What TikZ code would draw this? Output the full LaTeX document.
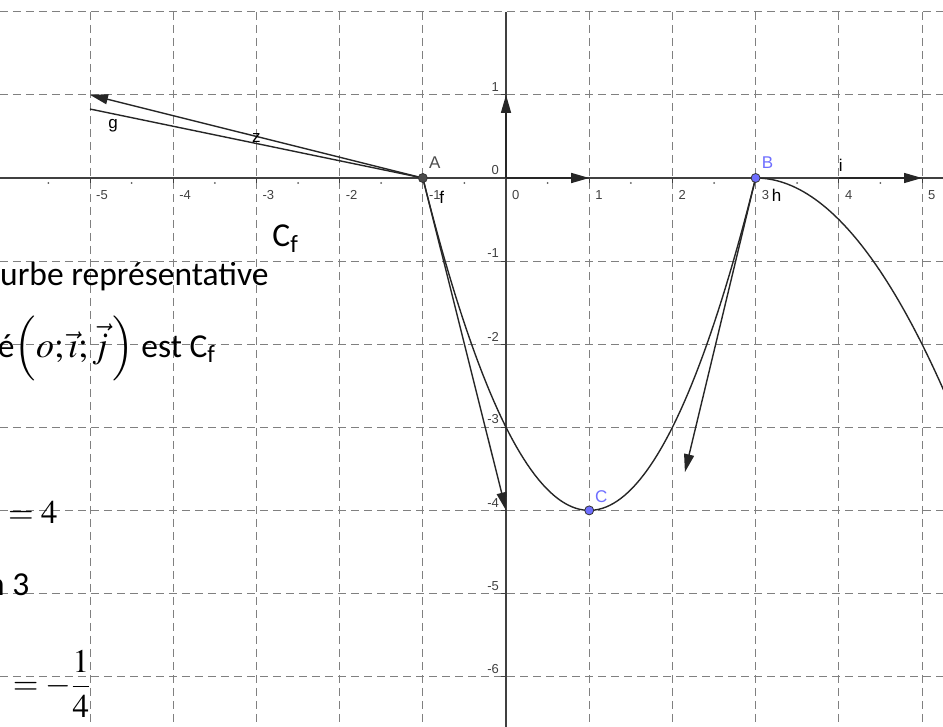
\documentclass[tikz,border=0pt]{standalone}
\usepackage{mathptmx}
\usepackage{fontspec}
\setmainfont{Carlito}
\newfontfamily\ggbfont{Liberation Sans}
\usetikzlibrary{arrows.meta,positioning,calc}
\definecolor{ggbblue}{RGB}{110,110,255}
\tikzset{
    gridline/.style  = {draw=black!50, line width=0.9pt, dash pattern=on 8pt off 5pt},
    axis/.style      = {draw=black!75, line width=2.6pt},
    ticks/.style     = {draw=black!75, line width=1pt},
    curve/.style     = {draw=black!85, line width=1.4pt},
    vec/.style       = {-{Triangle[length=18pt,width=10pt]}, draw=black!85, line width=1.4pt},
    ticklabel/.style = {font=\ggbfont\fontsize{13}{13}\selectfont, text=black!75, inner sep=0pt},
    ptlabel/.style   = {font=\ggbfont\fontsize{17}{17}\selectfont, inner sep=0pt},
    ggbpoint/.style  = {circle, draw=black!80, line width=0.8pt, minimum size=9pt, inner sep=0pt},
    doctext/.style   = {font=\fontsize{33.5}{36}\selectfont, inner sep=0pt, anchor=base west},
    eqtext/.style    = {font=\fontsize{33}{38}\selectfont, inner sep=0pt, anchor=base west}
}
\begin{document}
\begin{tikzpicture}[x=83.2pt, y=83.1pt]
    \def\xmin{-6.082}
    \def\xmax{5.252}
    \def\ymin{-6.606}
    \def\ymax{2.142}
    \useasboundingbox (\xmin,\ymin) rectangle (\xmax,\ymax);
    \foreach \gx in {-5,...,5} \draw[gridline] (\gx,2) -- (\gx,\ymin);
    \foreach \gy in {-6,...,2} \draw[gridline] (\xmin,\gy) -- (\xmax,\gy);
    \coordinate (O) at (0,0);
    \coordinate (I) at (1,0);
    \coordinate (J) at (0,1);
    \coordinate (I4) at (4,0);
    \coordinate (I5) at (5,0);
    \draw[axis] (\xmin,0) -- (\xmax,0);
    \draw[axis] (0,2) -- (0,\ymin);
    \foreach \gx in {-5,...,5} \draw[ticks] (\gx,0) -- ++(0,-5pt);
    \foreach \gy in {-6,...,1} \draw[ticks] (0,\gy) -- ++(-5pt,0);
    \foreach \gx in {-5.5,-4.5,...,4.5} \fill[black!65] (\gx,0) ++(0,-5pt) circle (1pt);
    \foreach \gx in {-5,...,5} \node[ticklabel, anchor=north west] (xl\gx) at ([xshift=6pt,yshift=-12pt]\gx,0) {\gx};
    \foreach \gy in {-6,...,1} \node[ticklabel, anchor=south east] (yl\gy) at ([xshift=-7pt,yshift=3pt]0,\gy) {\gy};
    \coordinate (A) at (-1,0);
    \coordinate (B) at (3,0);
    \coordinate (C) at (1,-4);
    \coordinate (tA) at (0,-4);
    \coordinate (tB) at (2.15,-3.54);
    \coordinate (uA) at (-5,1);
    \coordinate (gA) at (-5,0.83);
    \draw[curve] plot[domain=-1:3, samples=90] (\x, {\x*\x-2*\x-3});
    \draw[curve] plot[domain=3:5.35, samples=50] (\x, {-0.5*(\x-3)^2});
    \draw[curve] (gA) -- (A);
    \draw[vec] (A) -- (uA);
    \draw[vec] (A) -- (tA);
    \draw[vec] (B) -- (tB);
    \draw[vec] (O) -- (I);
    \draw[vec] (O) -- (J);
    \draw[vec] (I4) -- (I5);
    \node[ggbpoint, fill=black!70] (pA) at (A) {};
    \node[ggbpoint, fill=ggbblue] (pB) at (B) {};
    \node[ggbpoint, fill=ggbblue] (pC) at (C) {};
    \node[ptlabel, text=black!70] (lA) at ([xshift=12pt,yshift=15pt]A) {A};
    \node[ptlabel, text=ggbblue] (lB) at ([xshift=12pt,yshift=15pt]B) {B};
    \node[ptlabel, text=ggbblue] (lC) at ([xshift=12pt,yshift=14pt]C) {C};
    \node[ptlabel] (lf) at ([xshift=19pt,yshift=-19pt]A) {f};
    \node[ptlabel] (lh) at ([xshift=21pt,yshift=-17pt]B) {h};
    \node[ptlabel] (li) at ([xshift=2pt,yshift=13pt]I4) {i};
    \node[ptlabel] (lg) at ([xshift=23pt,yshift=-17pt]gA) {g};
    \node[ptlabel] (lz) at (-3,0.48) {z};
    \node[doctext] (cf) at (-2.81,-0.83) {C\textsubscript{f}};
    \node[doctext] (t1) at (\xmin,-1.288) {urbe représentative};
    \node[doctext] (t2) at (-6.11,-2.154) {é{\fontsize{36}{40}\selectfont$\left(o;\vec{\imath};\vec{j}\,\right)$} est C\textsubscript{f}};
    \node[eqtext] (e1) at (-5.986,-4.152) {$=4$};
    \node[doctext] (e2) at (-6.238,-5.02) {n 3};
    \node[eqtext] (e3) at (-5.93,-6.22) {$=-\displaystyle\frac{1}{4}$};
\end{tikzpicture}
\end{document}
